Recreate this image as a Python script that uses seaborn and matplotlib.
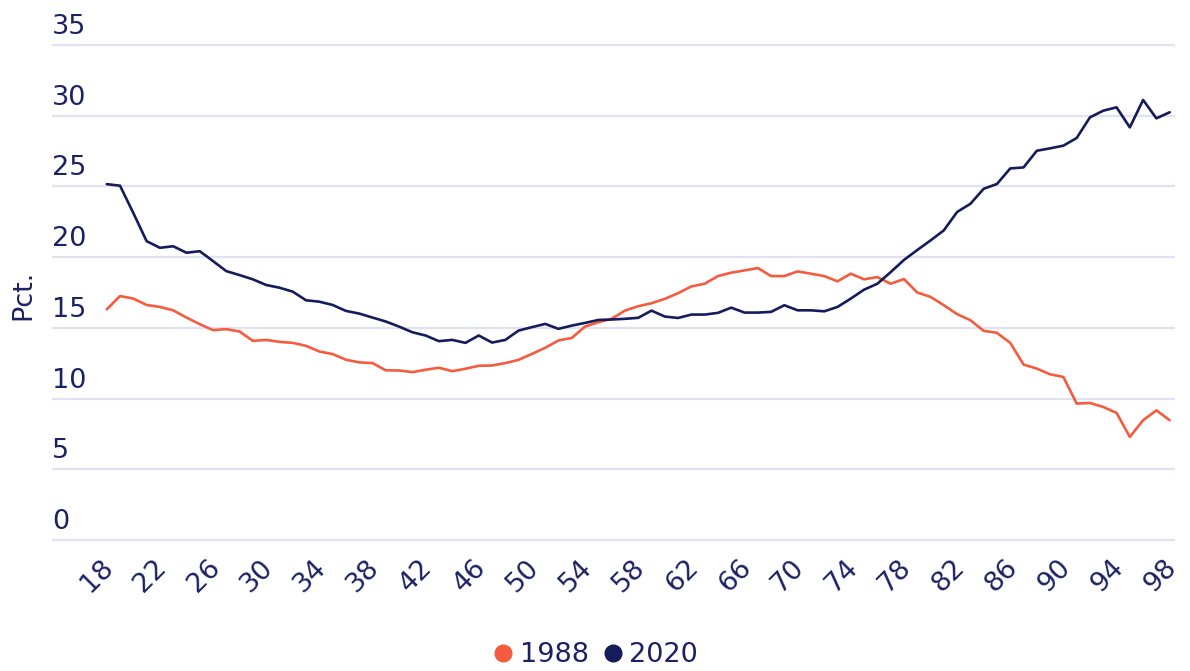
import numpy as np
import pandas as pd
import matplotlib
matplotlib.use("Agg")
import matplotlib.pyplot as plt
import matplotlib.transforms as mtransforms
from matplotlib.lines import Line2D
import seaborn as sns

ages = list(range(18, 99))
series_names = ["1988", "2020"]
values_1988 = [16.31, 17.25, 17.07, 16.62, 16.48, 16.24, 15.73, 15.26, 14.84, 14.91,
               14.74, 14.08, 14.15, 14.01, 13.94, 13.73, 13.33, 13.15, 12.75, 12.56,
               12.51, 12.00, 11.99, 11.87, 12.04, 12.18, 11.94, 12.11, 12.32, 12.34,
               12.51, 12.74, 13.16, 13.59, 14.11, 14.29, 15.09, 15.40, 15.64, 16.22,
               16.53, 16.74, 17.05, 17.45, 17.93, 18.12, 18.66, 18.90, 19.06, 19.23,
               18.66, 18.66, 18.99, 18.83, 18.66, 18.29, 18.83, 18.43, 18.59, 18.12,
               18.45, 17.50, 17.19, 16.60, 15.97, 15.54, 14.79, 14.65, 13.94, 12.41,
               12.12, 11.72, 11.53, 9.65, 9.69, 9.41, 8.99, 7.29, 8.47, 9.17, 8.47]
values_2020 = [25.16, 25.05, 23.12, 21.13, 20.66, 20.77, 20.31, 20.42, 19.72, 19.01,
               18.73, 18.43, 18.03, 17.84, 17.56, 16.95, 16.85, 16.62, 16.20, 16.01,
               15.73, 15.45, 15.09, 14.69, 14.46, 14.06, 14.15, 13.94, 14.46, 13.96,
               14.15, 14.81, 15.05, 15.28, 14.93, 15.16, 15.35, 15.56, 15.59, 15.64,
               15.71, 16.22, 15.80, 15.70, 15.94, 15.94, 16.06, 16.43, 16.08, 16.08,
               16.13, 16.60, 16.24, 16.24, 16.17, 16.48, 17.07, 17.70, 18.12, 18.94,
               19.80, 20.50, 21.18, 21.89, 23.19, 23.77, 24.83, 25.17, 26.27, 26.34,
               27.52, 27.69, 27.88, 28.42, 29.88, 30.35, 30.59, 29.17, 31.11, 29.81, 30.24]
x_ticks = list(range(18, 99, 4))
y_ticks = [0, 5, 10, 15, 20, 25, 30, 35]
y_label = "Pct."

NAVY_TEXT = "#1c2163"
colors = {"1988": "#f55b3e", "2020": "#161b5c"}

df = pd.DataFrame({
    "age": ages * 2,
    "value": values_1988 + values_2020,
    "year": ["1988"] * len(ages) + ["2020"] * len(ages),
})

sns.set_style("white")
plt.rcParams["font.family"] = ["DejaVu Sans"]

FS = 19.5
fig = plt.figure(figsize=(11.9, 6.71), dpi=100)
ax = fig.add_axes([52 / 1190, 1 - 541.5 / 671, (1175 - 52) / 1190, (541.5 - 43.5) / 671])

sns.lineplot(data=df, x="age", y="value", hue="year", palette=colors,
             hue_order=series_names, linewidth=1.9, legend=False, ax=ax)

ax.set_xlim(13.88, 98.4)
ax.set_ylim(-0.1, 35.1)
for s in ax.spines.values():
    s.set_visible(False)

ax.set_yticks(y_ticks)
ax.yaxis.grid(True, color="#e0e2ef", linewidth=1.6)
ax.xaxis.grid(False)
ax.set_axisbelow(True)
ax.tick_params(axis="y", length=0, pad=0, labelsize=FS, labelcolor=NAVY_TEXT)
offset = mtransforms.ScaledTranslation(0, 11 / 100, fig.dpi_scale_trans)
for lab in ax.get_yticklabels():
    lab.set_horizontalalignment("left")
    lab.set_verticalalignment("baseline")
    lab.set_transform(lab.get_transform() + offset)

ax.set_xticks(x_ticks)
ax.set_xticklabels([str(t) for t in x_ticks], rotation=45, rotation_mode="anchor",
                   ha="right", va="center")
ax.tick_params(axis="x", length=0, pad=16, labelsize=FS, labelcolor=NAVY_TEXT)
xoff = mtransforms.ScaledTranslation(3 / 100, 0, fig.dpi_scale_trans)
for lab in ax.get_xticklabels():
    lab.set_transform(lab.get_transform() + xoff)

ax.set_xlabel("")
ax.set_ylabel("")
fig.text(23 / 1190, 1 - 295 / 671, y_label, rotation=90, ha="center", va="center",
         fontsize=FS, color=NAVY_TEXT)

handles = [Line2D([0], [0], marker="o", linestyle="none", markersize=12,
                  markerfacecolor=colors[n], markeredgecolor=colors[n]) for n in series_names]
leg = fig.legend(handles, series_names, loc="center", bbox_to_anchor=(594 / 1190, 1 - 655 / 671),
                 ncol=2, frameon=False, fontsize=FS, handletextpad=0.1, columnspacing=0.4,
                 handlelength=1.0, borderpad=0)
for t in leg.get_texts():
    t.set_color(NAVY_TEXT)

fig.savefig("out.png", dpi=100)
